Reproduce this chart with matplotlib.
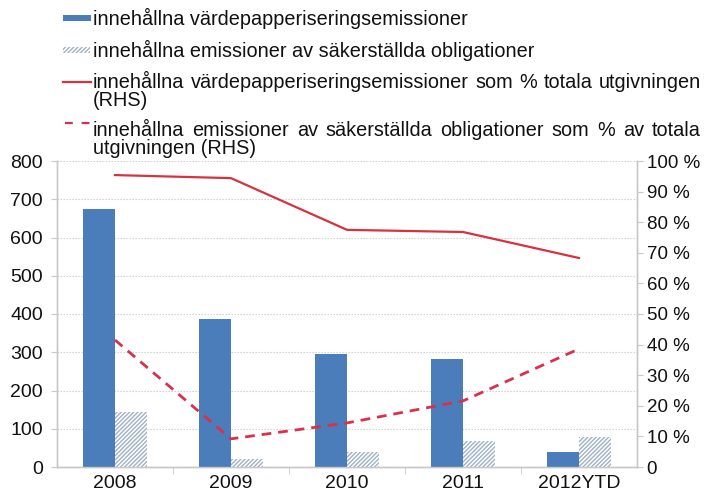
import matplotlib
matplotlib.use("Agg")
import matplotlib.pyplot as plt
from matplotlib.patches import Rectangle
from matplotlib.lines import Line2D
import numpy as np

plt.rcParams['font.family'] = ['Liberation Sans', 'DejaVu Sans']
plt.rcParams['hatch.color'] = '#9fb2c6'
plt.rcParams['hatch.linewidth'] = 1.0

categories = ["2008", "2009", "2010", "2011", "2012YTD"]
securitisation = [675, 388, 295, 283, 40]
covered = [145, 22, 38, 68, 78]
securitisation_pct = [95.4, 94.4, 77.5, 76.8, 68.3]
covered_pct = [41.5, 9.2, 14.4, 21.6, 38.6]

left_ticks = [0, 100, 200, 300, 400, 500, 600, 700, 800]
right_ticks = [0, 10, 20, 30, 40, 50, 60, 70, 80, 90, 100]
right_labels = ["0"] + [f"{v} %" for v in right_ticks[1:]]

legend_texts = [
    "innehållna värdepapperiseringsemissioner",
    "innehållna emissioner av säkerställda obligationer",
    "innehållna värdepapperiseringsemissioner som % totala utgivningen",
    "(RHS)",
    "innehållna emissioner av säkerställda obligationer som % av totala",
    "utgivningen (RHS)",
]

W, H = 705, 495
fig = plt.figure(figsize=(W / 100, H / 100), dpi=100)
ax = fig.add_axes([57 / W, 1 - 467 / H, (637 - 57) / W, (467 - 161) / H])
ax2 = ax.twinx()

blue = '#4a7dba'
red = '#d8323e'
gray = '#c8c8c8'
hatch_col = '#9fb2c6'

x = np.arange(len(categories))
bw = 0.28
ax.bar(x - bw / 2, securitisation, width=bw, color=blue, zorder=3)
ax.bar(x + bw / 2, covered, width=bw, color='white', hatch='////////', edgecolor=hatch_col,
       linewidth=0, zorder=3)

ax2.plot(x, securitisation_pct, color=red, lw=1.6, zorder=4)
ax2.plot(x, covered_pct, color='#d9304c', lw=2.0, ls=(0, (3.5, 2.5)), zorder=4)

ax.set_xlim(-0.5, len(categories) - 0.5)
ax.set_ylim(0, 800)
ax2.set_ylim(0, 100)
ax.set_yticks(left_ticks)
ax.set_yticklabels([str(v) for v in left_ticks])
ax2.set_yticks(right_ticks)
ax2.set_yticklabels(right_labels)
ax.set_xticks(x)
ax.set_xticklabels(categories)
ax.set_xticks(np.arange(0.5, len(categories) - 0.5, 1), minor=True)
ax.tick_params(axis='x', which='major', length=0, labelsize=14, pad=6, colors='#111111')
ax.tick_params(axis='x', which='minor', length=5, color=gray, direction='out')
ax.tick_params(axis='y', length=4, color=gray, labelsize=14, pad=6, labelcolor='#111111')
ax2.tick_params(axis='y', length=4, color=gray, labelsize=13.5, pad=3, labelcolor='#111111')

ax.grid(axis='y', color='#cccccc', ls=(0, (1.2, 1.5)), lw=0.8, zorder=0)
ax.set_axisbelow(True)
for a in (ax, ax2):
    a.spines['top'].set_visible(False)
    for s in ('left', 'right', 'bottom'):
        a.spines[s].set_color(gray)
        a.spines[s].set_linewidth(1.0)

# Legend (manual, figure pixel coordinates)
fs = 14.3
def fx(px):
    return px / W
def fy(py):
    return 1 - py / H

renderer = fig.canvas.get_renderer()

def justified(text, x0, x1, y):
    words = text.split(' ')
    ts = [fig.text(0, fy(y), w_, fontsize=fs, va='center', ha='left', color='#111111') for w_ in words]
    widths = [t.get_window_extent(renderer).width for t in ts]
    gap = (x1 - x0 - sum(widths)) / (len(words) - 1)
    pos = x0
    for t, wd in zip(ts, widths):
        t.set_x(fx(pos))
        pos += wd + gap

tx = 93
fig.text(fx(tx), fy(18), legend_texts[0], fontsize=fs, va='center', color='#111111')
fig.text(fx(tx), fy(50), legend_texts[1], fontsize=fs, va='center', color='#111111')
justified(legend_texts[2], tx, 701, 82)
fig.text(fx(tx), fy(101), legend_texts[3], fontsize=fs, va='center', color='#111111')
justified(legend_texts[4], tx, 701, 131)
fig.text(fx(tx), fy(149), legend_texts[5], fontsize=fs, va='center', color='#111111')

fig.patches.append(Rectangle((fx(63), fy(21)), fx(28), 6 / H, transform=fig.transFigure,
                             facecolor=blue, edgecolor='none'))
fig.patches.append(Rectangle((fx(63), fy(53)), fx(27), 6 / H, transform=fig.transFigure,
                             facecolor='white', hatch='////////', edgecolor=hatch_col, linewidth=0))
fig.lines.append(Line2D([fx(63), fx(91)], [fy(82), fy(82)], transform=fig.transFigure,
                        color=red, lw=1.6))
fig.lines.append(Line2D([fx(65), fx(90)], [fy(123), fy(123)], transform=fig.transFigure,
                        color='#d9304c', lw=1.6, ls=(0, (3.5, 4))))

fig.savefig("out.png", dpi=100)
